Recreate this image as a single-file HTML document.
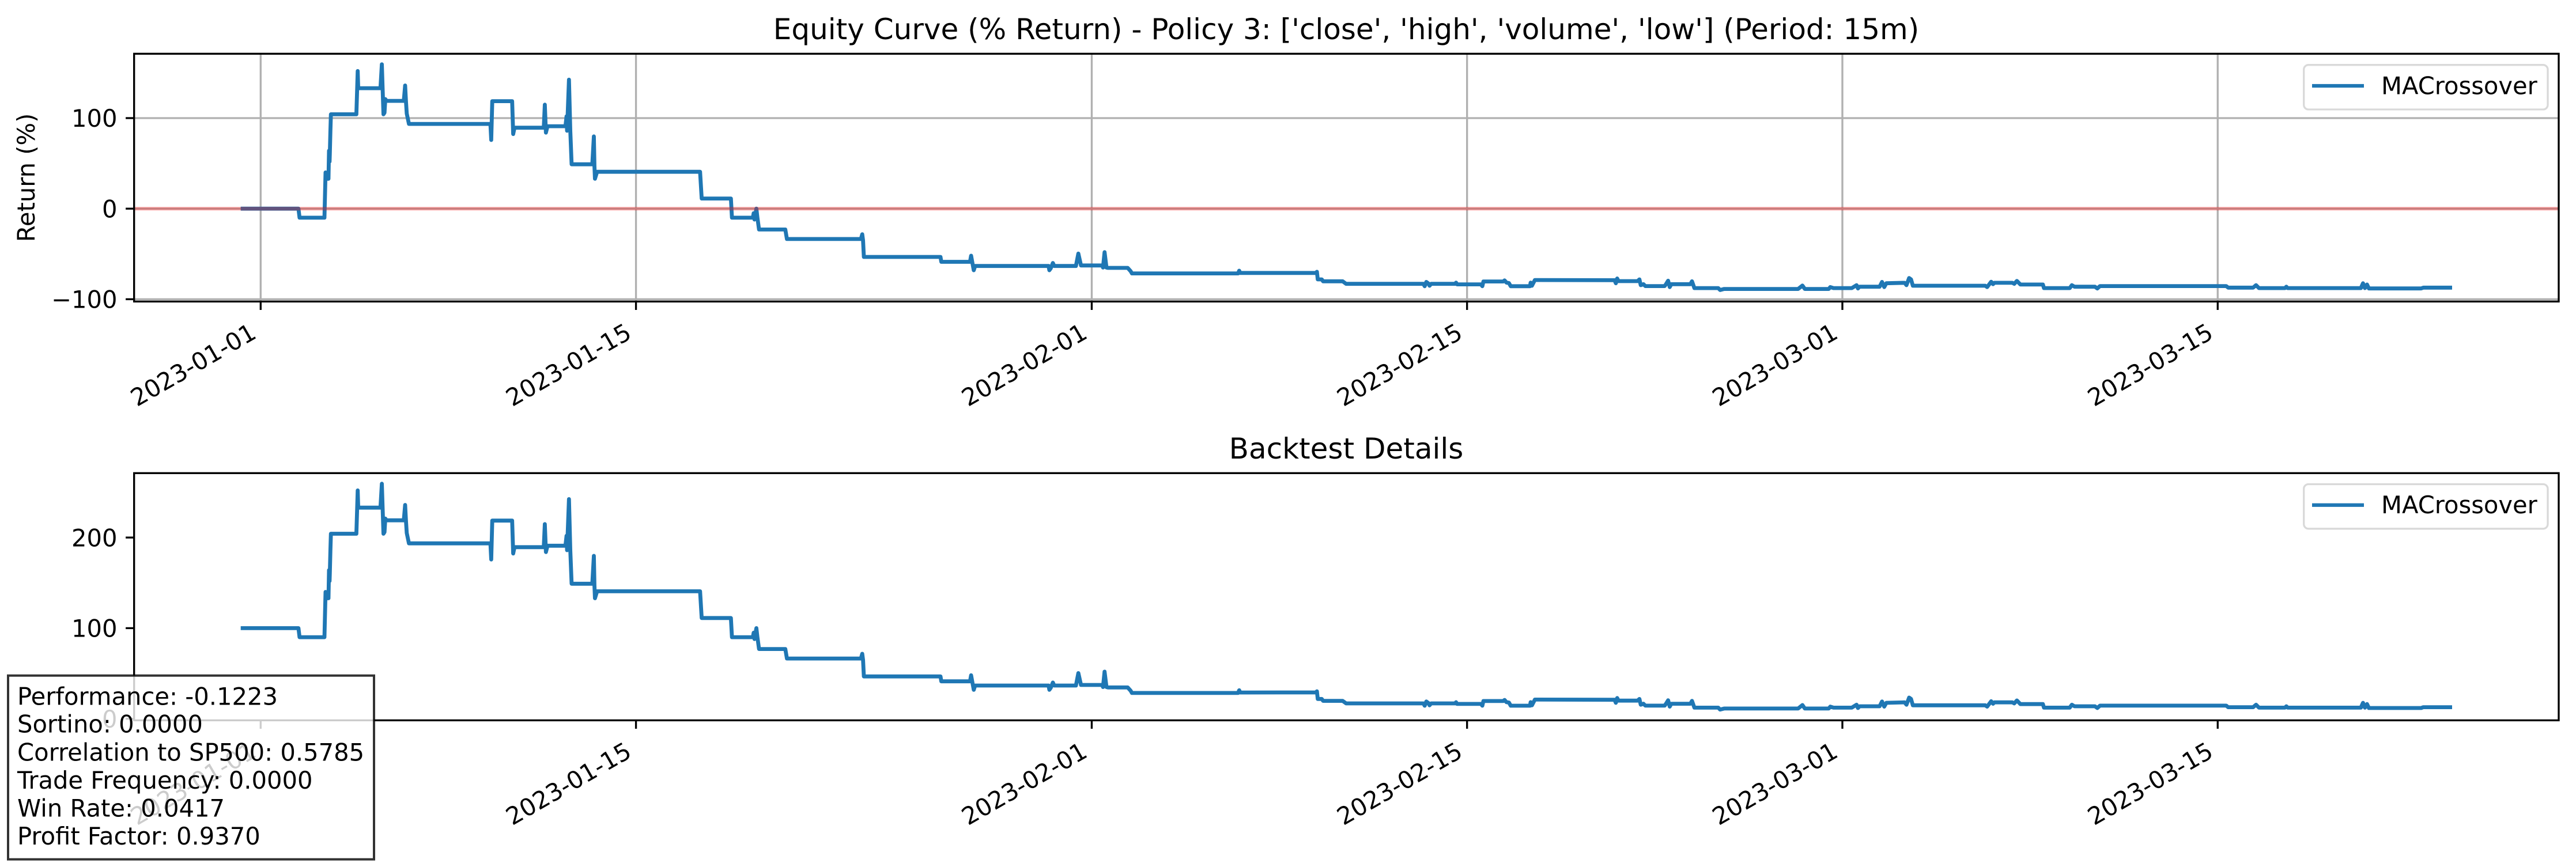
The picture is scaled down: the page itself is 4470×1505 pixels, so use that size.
<!DOCTYPE html>
<html lang="en">
<head>
<meta charset="utf-8">
<title>Equity Curve Backtest</title>
<style>
html,body{margin:0;padding:0;background:#fff;width:4470px;height:1505px;overflow:hidden}
svg{display:block}
text{font-family:"DejaVu Sans","Liberation Sans",sans-serif;fill:#000}
</style>
</head>
<body>
<svg id="figure" xmlns="http://www.w3.org/2000/svg" width="4470" height="1505" viewBox="0 0 4470 1505">
  <rect x="0" y="0" width="4470" height="1505" fill="#fff"/>
  <g id="top-axes"></g>
  <g id="bottom-axes"></g>

  <text x="2336" y="68" font-size="50" text-anchor="middle">Equity Curve (% Return) - Policy 3: ['close', 'high', 'volume', 'low'] (Period: 15m)</text>
  <text x="2336" y="796" font-size="50" text-anchor="middle">Backtest Details</text>
  <text transform="translate(60,308.4) rotate(-90)" font-size="41.67" text-anchor="middle">Return (%)</text>

  <g>
    <rect x="3997.7" y="112.7" width="423.3" height="77.3" rx="8" ry="8" fill="#fff" fill-opacity="0.8" stroke="#d9d9d9" stroke-width="3.33"/>
    <line x1="4012" x2="4102" y1="149" y2="149" stroke="#1f77b4" stroke-width="6.25"/>
    <text x="4132" y="163.3" font-size="41.67">MACrossover</text>
  </g>
  <g>
    <rect x="3997.7" y="840.5" width="423.3" height="77.3" rx="8" ry="8" fill="#fff" fill-opacity="0.8" stroke="#d9d9d9" stroke-width="3.33"/>
    <line x1="4012" x2="4102" y1="876.8" y2="876.8" stroke="#1f77b4" stroke-width="6.25"/>
    <text x="4132" y="891.1" font-size="41.67">MACrossover</text>
  </g>

  <g>
    <rect x="14" y="1172.7" width="635" height="319" fill="#fff" fill-opacity="0.8" stroke="#000" stroke-opacity="0.8" stroke-width="4"/>
    <text x="30" y="1223.3" font-size="41.67">Performance: -0.1223</text>
    <text x="30" y="1271.7" font-size="41.67">Sortino: 0.0000</text>
    <text x="30" y="1320.4" font-size="41.67">Correlation to SP500: 0.5785</text>
    <text x="30" y="1369" font-size="41.67">Trade Frequency: 0.0000</text>
    <text x="30" y="1417.7" font-size="41.67">Win Rate: 0.0417</text>
    <text x="30" y="1466" font-size="41.67">Profit Factor: 0.9370</text>
  </g>
</svg>

<script>
// Chart data
const tradeDays = [-0.67,1.41,1.45,2.38,2.42,2.44,2.53,2.55,2.57,2.58,2.60,2.62,3.57,3.60,3.62,3.64,4.47,4.52,4.58,4.62,4.65,4.70,5.34,5.39,5.42,5.45,5.53,8.57,8.60,8.64,9.38,9.42,9.47,10.56,10.60,10.64,10.70,11.37,11.41,11.43,11.50,11.55,11.60,12.37,12.43,12.45,12.47,12.55,16.39,16.45,17.54,17.58,18.36,18.39,18.42,18.49,18.53,18.59,19.57,19.63,22.39,22.44,22.47,22.50,25.36,25.39,26.46,26.50,26.60,26.65,29.39,29.42,29.47,29.55,29.60,30.41,30.50,30.60,31.39,31.42,31.48,31.55,31.60,32.34,32.45,32.50,36.46,36.50,36.54,39.36,39.40,39.43,39.58,39.63,40.36,40.49,43.37,43.42,43.48,43.55,43.60,43.66,44.56,44.59,44.63,45.52,45.57,45.61,46.35,46.40,46.47,46.56,46.63,47.35,47.37,47.42,47.53,47.64,50.50,50.55,50.60,50.65,51.36,51.43,51.48,51.58,51.65,52.37,52.42,52.50,52.56,52.62,53.33,53.39,53.48,54.37,54.44,54.59,57.35,57.51,57.60,58.49,58.55,58.67,59.35,59.53,59.58,59.64,60.39,60.48,60.56,60.64,61.32,61.39,61.49,61.56,61.63,64.33,64.40,64.55,64.62,64.67,65.34,65.41,65.51,65.64,66.48,66.52,67.48,67.56,67.66,68.42,68.51,68.61,73.32,73.39,74.32,74.43,74.54,75.51,75.56,75.61,78.34,78.42,78.49,78.57,78.64,80.59,80.67,81.67];
const returnPct = [0,0,-10,-10,40,33,33,64,52,60,85,104.2,104.2,133,152,133,133,159.4,104.2,106,121,119,119,136,119,105,93.6,93.6,75.8,118.7,118.7,82.4,89.4,89.4,114.8,84,91,91,102,86,142.4,86,49,49,79.8,47,33,40.7,40.7,11.2,11.2,-10,-10,-5,-12,0,-10,-23,-23,-33.5,-33.5,-28.3,-35,-53.3,-53.3,-58.7,-58.7,-52,-68,-63.3,-63.3,-68,-66,-60,-63.3,-63.3,-49.6,-62.7,-62.7,-65,-48,-65,-65.4,-65.4,-69,-71.5,-71.5,-68.5,-71,-70.9,-69.7,-78.1,-78.1,-80.2,-80.2,-83,-83,-85.6,-80.9,-82.4,-85.1,-83,-83,-81.7,-83.6,-83.6,-85.6,-80.4,-80.4,-79.2,-81.7,-82.1,-85.6,-85.6,-81.7,-85.1,-78.8,-78.8,-79,-82.4,-77.1,-80,-80,-78.1,-84.5,-83.4,-85.5,-85.5,-83.4,-79.6,-86.6,-83.4,-83.4,-80.2,-87.7,-87.7,-89.8,-88.7,-88.7,-84.9,-88.7,-88.7,-86.6,-87.7,-87.7,-84.5,-88.1,-86.2,-86.2,-80.9,-86.6,-82.4,-81.9,-84.5,-76.6,-78.1,-85.1,-85.1,-86.6,-80.7,-83.4,-81.9,-81.9,-83,-79.8,-83.8,-83.8,-87.7,-87.7,-84.5,-86.2,-86.2,-88.1,-85.5,-85.5,-87.2,-87.2,-84.5,-87.7,-87.7,-86.2,-87.7,-87.7,-82.4,-87.7,-83.8,-88.1,-88.1,-87.2,-87.2];
const equityValues = returnPct.map(function (v) { return v + 100; });
const xTickDates = ['2023-01-01','2023-01-15','2023-02-01','2023-02-15','2023-03-01','2023-03-15'];
const topYTicks = [-100,0,100];
const bottomYTicks = [0,100,200];
const seriesName = 'MACrossover';

const NS = 'http://www.w3.org/2000/svg';
const AX_LEFT = 232.7, AX_RIGHT = 4440;
const PX_PER_DAY = 46.52, DAY_ZERO_X = 452.3;
const BLUE = '#1f77b4';

function dayOf(iso) { return (Date.parse(iso + 'T00:00:00Z') - Date.UTC(2023, 0, 1)) / 86400000; }
function xScale(day) { return DAY_ZERO_X + day * PX_PER_DAY; }
function make(parent, tag, attrs) {
  const el = document.createElementNS(NS, tag);
  Object.keys(attrs).forEach(function (k) { el.setAttribute(k, attrs[k]); });
  parent.appendChild(el);
  return el;
}
function fmtTick(v) { return v < 0 ? '\u2212' + Math.abs(v) : String(v); }

function drawAxes(root, top, bottom, yScale, yTicks, values, withGrid) {
  if (withGrid) {
    xTickDates.forEach(function (d) {
      const g = make(root, 'line', { x1: xScale(dayOf(d)), x2: xScale(dayOf(d)), y1: top, y2: bottom, stroke: '#b0b0b0', 'stroke-width': 3.33 });
      
      
    });
    yTicks.forEach(function (t) {
      const g = make(root, 'line', { x1: AX_LEFT, x2: AX_RIGHT, y1: yScale(t), y2: yScale(t), stroke: '#b0b0b0', 'stroke-width': 3.33 });
      
      
    });
  }

  const pts = tradeDays.map(function (d, i) { return xScale(d).toFixed(1) + ',' + yScale(values[i]).toFixed(1); }).join(' ');
  const line = make(root, 'polyline', { points: pts, fill: 'none', stroke: BLUE, 'stroke-width': 6.8, 'stroke-linejoin': 'round', 'stroke-linecap': 'square' });
  
  

  if (withGrid) {
    const zero = make(root, 'line', { x1: AX_LEFT, x2: AX_RIGHT, y1: yScale(0), y2: yScale(0), stroke: '#ff0000', 'stroke-opacity': 0.3, 'stroke-width': 6.25 });
    
    
  }

  const frame = make(root, 'rect', { x: AX_LEFT, y: top, width: AX_RIGHT - AX_LEFT, height: bottom - top, fill: 'none', stroke: '#000', 'stroke-width': 3.33 });
  
  

  yTicks.forEach(function (t) {
    const y = yScale(t);
    const tick = make(root, 'line', { x1: AX_LEFT - 14.6, x2: AX_LEFT, y1: y, y2: y, stroke: '#000', 'stroke-width': 3.33 });
    
    
    const label = make(root, 'text', { x: 203.5, y: y + 15.2, 'font-size': 41.67, 'text-anchor': 'end' });
    label.textContent = fmtTick(t);
    
    
  });

  xTickDates.forEach(function (d) {
    const x = xScale(dayOf(d));
    const tick = make(root, 'line', { x1: x, x2: x, y1: bottom, y2: bottom + 14.6, stroke: '#000', 'stroke-width': 3.33 });
    
    
    const label = make(root, 'text', { transform: 'translate(' + (x - 5) + ',' + (bottom + 62) + ') rotate(-30)', 'font-size': 41.67, 'text-anchor': 'end' });
    label.textContent = d;
    
    
  });
}

function topY(v) { return 362.2 - v * 1.572; }
function bottomY(v) { return 1247.7 - v * 1.573; }

drawAxes(document.getElementById('top-axes'), 93.3, 523.4, topY, topYTicks, returnPct, true);
drawAxes(document.getElementById('bottom-axes'), 821.3, 1250.4, bottomY, bottomYTicks, equityValues, false);
</script>
</body>
</html>
